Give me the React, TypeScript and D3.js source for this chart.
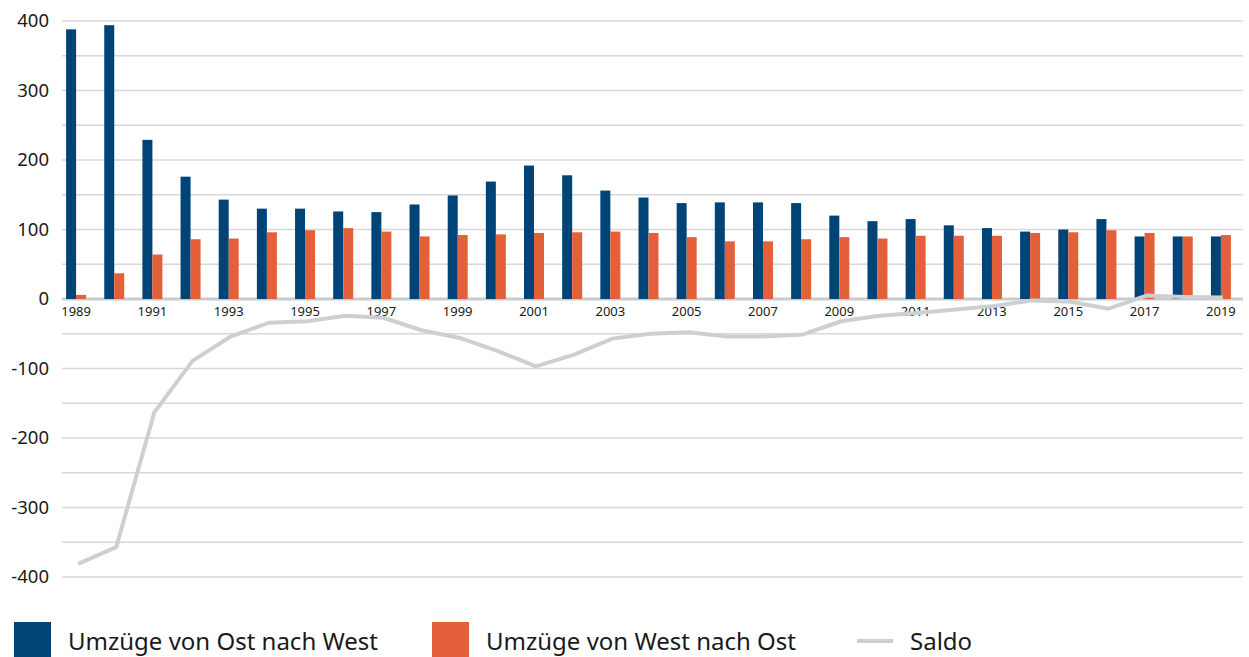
import React from "react";
import * as d3 from "d3";

const years = d3.range(1989, 2020).map(String);

// Umzüge in Tausend
const ostNachWest = [
  388, 394, 229, 176, 143, 130, 130, 126, 125, 136, 149, 169, 192, 178, 156, 146,
  138, 139, 139, 138, 120, 112, 115, 106, 102, 97, 100, 115, 90, 90, 90,
];
const westNachOst = [
  6, 37, 64, 86, 87, 96, 99, 102, 97, 90, 92, 93, 95, 96, 97, 95,
  89, 83, 83, 86, 89, 87, 91, 91, 91, 95, 96, 99, 95, 90, 92,
];
const saldo = [
  -381, -357, -163, -89, -54, -34, -32, -24, -27, -45, -56, -75, -97, -80, -57, -50,
  -48, -54, -54, -51, -32, -24, -20, -15, -10, -2, -4, -14, 5, 3, 2,
];

const yTicks = [400, 300, 200, 100, 0, -100, -200, -300, -400];
const gridValues = d3.range(-400, 401, 50);
const labeledYears = years.filter((_, i) => i % 2 === 0);

const seriesKeys = ["ost", "west"];
const legendItems = [
  { label: "Umzüge von Ost nach West", color: "#004477", kind: "bar" },
  { label: "Umzüge von West nach Ost", color: "#e4603a", kind: "bar" },
  { label: "Saldo", color: "#cdd0d3", kind: "line" },
];

const W = 1249;
const H = 657;
const FONT = "'Noto Sans', sans-serif";

const App = () => {
  const y = d3.scaleLinear().domain([-400, 400]).range([577, 21]);
  const x0 = d3
    .scaleBand<string>()
    .domain(years)
    .range([57, 1240])
    .paddingInner(0.476)
    .paddingOuter(0.238);
  const x1 = d3.scaleBand<string>().domain(seriesKeys).range([0, x0.bandwidth()]);
  const cx = (yr: string) => (x0(yr) as number) + x0.bandwidth() / 2;

  const line = d3
    .line<number>()
    .x((_, i) => cx(years[i]) + 2)
    .y((d) => y(d));

  const legendX = [14, 432, 857];

  return (
    <svg
      width={W}
      height={H}
      style={{ position: "absolute", left: 0, top: 0, background: "#fff" }}
      fontFamily={FONT}
    >
      {gridValues.map((v) => (
        <line
          key={v}
          x1={62}
          x2={1243}
          y1={y(v)}
          y2={y(v)}
          stroke={v === 0 ? "#c9cbcd" : "#d6d8da"}
          strokeWidth={v === 0 ? 3 : 1.5}
        />
      ))}
      {yTicks.map((v) => (
        <text
          key={v}
          x={49}
          y={y(v)}
          dy="0.35em"
          textAnchor="end"
          fontSize={18.5}
          fill="#1a1a1a"
        >
          {v}
        </text>
      ))}
      {years.map((yr, i) => (
        <g key={yr} transform={`translate(${x0(yr)},0)`}>
          <rect
            x={x1("ost")}
            width={x1.bandwidth()}
            y={y(ostNachWest[i])}
            height={y(0) - y(ostNachWest[i])}
            fill="#004477"
          />
          <rect
            x={x1("west")}
            width={x1.bandwidth()}
            y={y(westNachOst[i])}
            height={y(0) - y(westNachOst[i])}
            fill="#e4603a"
          />
        </g>
      ))}
      {labeledYears.map((yr) => (
        <text
          key={yr}
          x={cx(yr)}
          y={y(0) + 17}
          textAnchor="middle"
          fontSize={13}
          fill="#1a1a1a"
        >
          {yr}
        </text>
      ))}
      <path
        d={line(saldo) as string}
        fill="none"
        stroke="#cdd0d3"
        strokeWidth={4}
        strokeLinejoin="round"
      />
      {legendItems.map((item, i) => (
        <g key={item.label} transform={`translate(${legendX[i]},0)`}>
          {item.kind === "bar" ? (
            <rect x={0} y={622} width={37} height={35} fill={item.color} />
          ) : (
            <line x1={0} x2={36} y1={641} y2={641} stroke={item.color} strokeWidth={4} />
          )}
          <text
            x={item.kind === "bar" ? 54 : 53}
            y={650}
            fontSize={24}
            fill="#1a1a1a"
          >
            {item.label}
          </text>
        </g>
      ))}
    </svg>
  );
};

export default App;
